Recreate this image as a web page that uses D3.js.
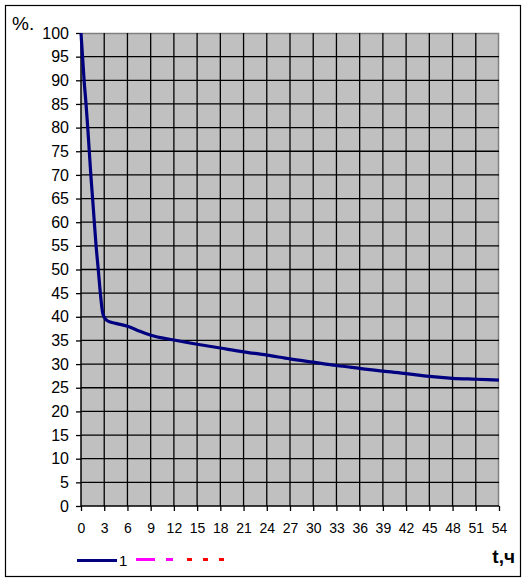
<!DOCTYPE html>
<html>
<head>
<meta charset="utf-8">
<script src="https://cdn.jsdelivr.net/npm/d3@7"></script>
<style>
  html, body { margin: 0; padding: 0; background: #fff; }
  svg { display: block; }
  text { font-family: "Liberation Sans", Arial, sans-serif; fill: #000; }
</style>
</head>
<body>
<svg id="chart" width="526" height="582"></svg>
<script>
// ---- data ----
const times  = [0, 0.2, 0.4, 0.65, 0.87, 1.07, 1.27, 1.5, 1.72, 1.95, 2.23, 2.5, 2.8, 3.0, 3.3, 3.8, 4.5, 6, 7.5, 9, 12, 15, 18, 21, 24, 27, 30, 33, 36, 39, 42, 45, 48, 51, 54];
const values = [100, 95, 90, 85, 80, 75, 70, 65, 60, 55, 50, 45, 40.8, 39.9, 39.3, 38.9, 38.6, 38.0, 37.0, 36.1, 35.1, 34.2, 33.4, 32.6, 31.9, 31.1, 30.4, 29.7, 29.1, 28.5, 28.0, 27.4, 27.0, 26.8, 26.6];
const xTicks = d3.range(0, 55, 3);      // 0,3,...,54
const yTicks = d3.range(0, 101, 5);     // 0,5,...,100
const legendNames = ["1", "", ""];
const yAxisTitle = "%.";
const xAxisTitle = "t,ч";

(function () {
// ---- layout ----
const svg = d3.select("#chart");
const pL = 81, pR = 499, pT = 33, pB = 506;
const x = d3.scaleLinear().domain([0, 54]).range([pL, pR]);
const y = d3.scaleLinear().domain([0, 100]).range([pB, pT]);

// outer border
svg.append("rect").attr("x", 5.5).attr("y", 5.5).attr("width", 515).attr("height", 571)
  .attr("fill", "#fff").attr("stroke", "#000").attr("stroke-width", 1.2);

// plot background
svg.append("rect").attr("x", pL).attr("y", pT).attr("width", pR - pL).attr("height", pB - pT)
  .attr("fill", "#c0c0c0");
// gray top/right border
svg.append("path").attr("d", `M${pL},${pT + 0.5}H${pR - 0.5}V${pB}`)
  .attr("fill", "none").attr("stroke", "#808080").attr("stroke-width", 1.5);

// grid
const grid = svg.append("g").attr("stroke", "#000").attr("stroke-width", 1.3);
xTicks.filter(t => t > 0 && t < 54).forEach(t => {
  grid.append("line").attr("x1", x(t)).attr("x2", x(t)).attr("y1", pT).attr("y2", pB);
});
yTicks.filter(v => v > 0 && v < 100).forEach(v => {
  grid.append("line").attr("x1", pL).attr("x2", pR).attr("y1", y(v)).attr("y2", y(v));
});

// axes
const xAxis = d3.axisBottom(x).tickValues(xTicks).tickSize(5).tickPadding(12).tickFormat(d3.format("d"));
const gx = svg.append("g").attr("transform", `translate(0,${pB})`).call(xAxis);
gx.select(".domain").attr("stroke", "#000").attr("stroke-width", 1.5).attr("d", `M${pL},0H${pR}`);
gx.selectAll(".tick line").attr("stroke", "#000").attr("stroke-width", 1.3);
gx.selectAll(".tick text").attr("font-size", 14).attr("font-family", "Liberation Sans, Arial, sans-serif");

const yAxis = d3.axisLeft(y).tickValues(yTicks).tickSize(5).tickPadding(7).tickFormat(d3.format("d"));
const gy = svg.append("g").attr("transform", `translate(${pL},0)`).call(yAxis);
gy.select(".domain").attr("stroke", "#000").attr("stroke-width", 1.5).attr("d", `M0,${pT}V${pB}`);
gy.selectAll(".tick line").attr("stroke", "#000").attr("stroke-width", 1.3);
gy.selectAll(".tick text").attr("font-size", 16).attr("font-family", "Liberation Sans, Arial, sans-serif");

// curve
const line = d3.line().x((d, i) => x(times[i])).y(d => y(d)).curve(d3.curveMonotoneX);
svg.append("path").datum(values).attr("d", line)
  .attr("fill", "none").attr("stroke", "#000080").attr("stroke-width", 3.2).attr("stroke-linejoin", "round");

// axis titles
svg.append("text").attr("x", 12).attr("y", 30).attr("font-size", 19).text(yAxisTitle);
svg.append("text").attr("x", 515).attr("y", 563).attr("text-anchor", "end")
  .attr("font-size", 19).attr("font-weight", "bold").text(xAxisTitle);

// legend
const ly = 559.5;
svg.append("line").attr("x1", 77).attr("x2", 117).attr("y1", ly + 1).attr("y2", ly + 1)
  .attr("stroke", "#000080").attr("stroke-width", 3);
svg.append("text").attr("x", 119).attr("y", 566).attr("font-size", 15).text(legendNames[0]);
svg.append("line").attr("x1", 136).attr("x2", 173).attr("y1", ly).attr("y2", ly)
  .attr("stroke", "#ff00ff").attr("stroke-width", 3).attr("stroke-dasharray", "19,11");
svg.append("line").attr("x1", 187).attr("x2", 224).attr("y1", ly).attr("y2", ly)
  .attr("stroke", "#ff0000").attr("stroke-width", 3).attr("stroke-dasharray", "5,11");
})();
</script>
</body>
</html>
